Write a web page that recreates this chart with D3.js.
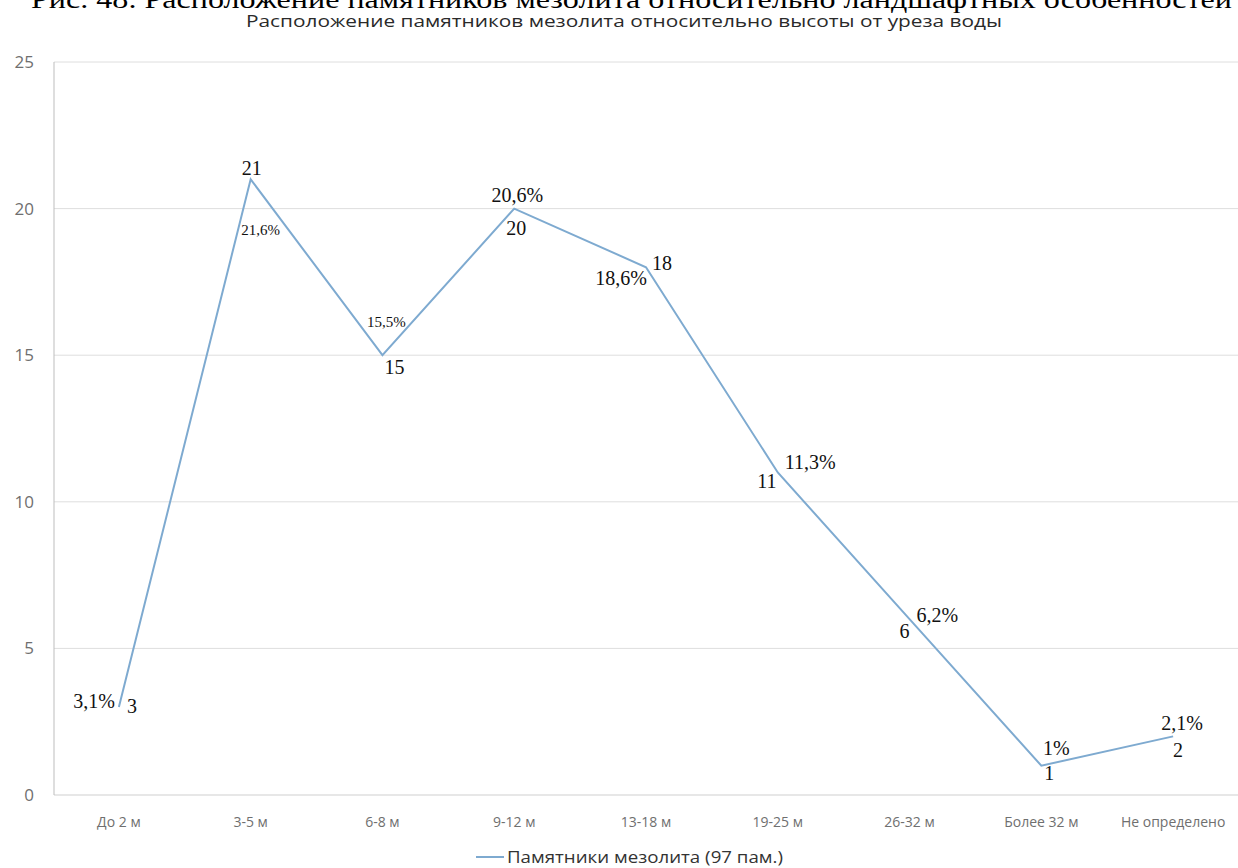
<!DOCTYPE html>
<html><head><meta charset="utf-8">
<script src="https://cdn.jsdelivr.net/npm/d3@7"></script>
<style>body{margin:0;background:#fff;}svg{display:block;}</style>
</head><body>
<svg id="c" width="1238" height="868"></svg>
<script>
const categories = ["До 2 м","3-5 м","6-8 м","9-12 м","13-18 м","19-25 м","26-32 м","Более 32 м","Не определено"];
const values = [3,21,15,20,18,11,6,1,2];
const percents = ["3,1%","21,6%","15,5%","20,6%","18,6%","11,3%","6,2%","1%","2,1%"];
const yTicks = [0,5,10,15,20,25];
const figTitle = "Рис. 48. Расположение памятников мезолита относительно ландшафтных особенностей";
const chartTitle = "Расположение памятников мезолита относительно высоты от уреза воды";
const seriesName = "Памятники мезолита (97 пам.)";

// label placement per point: [dx,dy,anchor,size] for value and percent
const valuePos = [[13,6,"middle",20],[1,-4,"middle",20],[12,19,"middle",20],[2,26,"middle",20],[6,3,"start",20],[-11,16,"middle",20],[-5,19,"middle",20],[8,14,"middle",20],[5,21,"middle",20]];
const pctPos = [[-4,1,"end",20],[10,56,"middle",15],[4,-28,"middle",15],[3,-7,"middle",20],[1,18,"end",20],[7,-3,"start",20],[7,3,"start",20],[15,-11,"middle",20],[9,-6,"middle",20]];

const svg = d3.select("#c");
const x = d3.scaleBand().domain(categories).range([53,1239]).padding(0);
const y = d3.scaleLinear().domain([0,25]).range([795,62]);
const cx = d => x(d) + x.bandwidth()/2;

// titles
svg.append("text").attr("x",31).attr("y",8).attr("textLength",1201).attr("lengthAdjust","spacingAndGlyphs")
  .style("font-family","Liberation Serif, Times New Roman, serif").style("font-size","26px").attr("fill","#000").text(figTitle);
svg.append("text").attr("x",246).attr("y",27).attr("textLength",756).attr("lengthAdjust","spacingAndGlyphs")
  .style("font-family","Open Sans, sans-serif").style("font-size","17px").attr("fill","#2a2a2a").text(chartTitle);

// grid
svg.append("g").selectAll("line").data(yTicks).join("line")
  .attr("x1",54).attr("x2",1238).attr("y1",d=>y(d)).attr("y2",d=>y(d))
  .attr("stroke",d=>d===0?"#cfcfcf":"#dedede").attr("stroke-width",1);
svg.append("line").attr("x1",54).attr("x2",54).attr("y1",y(25)).attr("y2",y(0)).attr("stroke","#bdbdbd");

// y tick labels
svg.append("g").selectAll("text").data(yTicks).join("text")
  .attr("x",34).attr("y",d=>y(d)+6).attr("text-anchor","end")
  .style("font-family","Open Sans, sans-serif").style("font-size","17px").attr("fill","#6f6f6f").text(d=>d);

// x labels
svg.append("g").selectAll("text").data(categories).join("text")
  .attr("x",d=>cx(d)).attr("y",827).attr("text-anchor","middle")
  .style("font-family","Open Sans, sans-serif").style("font-size","14px").attr("fill","#6f6f6f").text(d=>d);

// line
const pts = categories.map((c,i)=>({c,v:values[i],p:percents[i],i}));
svg.append("path").datum(pts)
  .attr("d",d3.line().x(d=>cx(d.c)).y(d=>y(d.v)))
  .attr("fill","none").attr("stroke","#7eaad0").attr("stroke-width",2);

// value labels
const serif = "Liberation Serif, Times New Roman, serif";
svg.append("g").selectAll("text").data(pts).join("text")
  .attr("x",d=>cx(d.c)+valuePos[d.i][0]).attr("y",d=>y(d.v)+valuePos[d.i][1])
  .attr("text-anchor",d=>valuePos[d.i][2]).style("font-size",d=>valuePos[d.i][3]+"px")
  .style("font-family",serif).attr("fill","#111").text(d=>d.v);
svg.append("g").selectAll("text").data(pts).join("text")
  .attr("x",d=>cx(d.c)+pctPos[d.i][0]).attr("y",d=>y(d.v)+pctPos[d.i][1])
  .attr("text-anchor",d=>pctPos[d.i][2]).style("font-size",d=>pctPos[d.i][3]+"px")
  .style("font-family",serif).attr("fill","#111").text(d=>d.p);

// legend
svg.append("line").attr("x1",476).attr("x2",504).attr("y1",857).attr("y2",857).attr("stroke","#7eaad0").attr("stroke-width",2);
svg.append("text").attr("x",507).attr("y",863).attr("textLength",276).attr("lengthAdjust","spacingAndGlyphs")
  .style("font-family","Open Sans, sans-serif").style("font-size","17px")
  .attr("fill","#333").text(seriesName);
</script>
</body></html>
